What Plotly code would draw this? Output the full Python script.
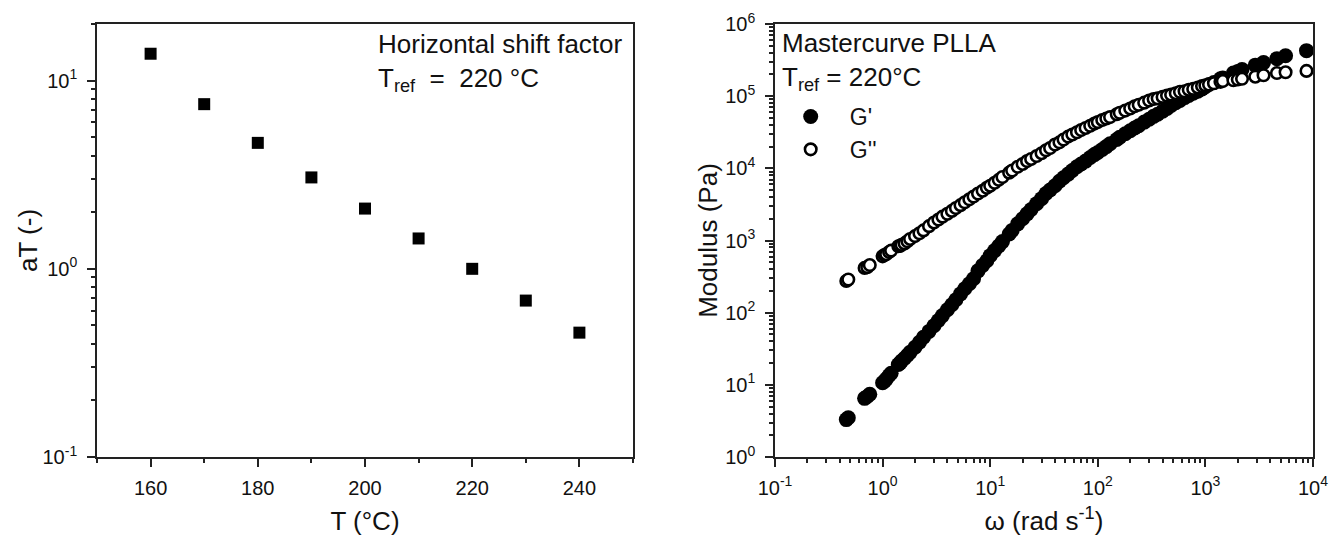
import plotly.graph_objects as go

# ---------------- data ----------------
T_C = [160, 170, 180, 190, 200, 210, 220, 230, 240]
aT = [13.9, 7.5, 4.67, 3.06, 2.09, 1.45, 1.0, 0.678, 0.458]

omega = [0.46, 0.48, 0.68, 0.72, 0.76, 1.0, 1.04, 1.08, 1.15, 1.2, 1.4, 1.45, 1.5, 1.6, 1.7, 1.8,
         2.0, 2.2, 2.4, 2.7, 3.0, 3.3, 3.6, 4.0, 4.4, 4.8, 5.3, 5.8, 6.4, 7.0, 7.7, 8.5, 9.3,
         10, 11, 12, 13, 15, 16, 18, 20, 22, 24, 27, 30, 33, 36, 40, 44, 48, 53, 58, 64, 70,
         77, 85, 93, 100, 110, 120, 130, 150, 160, 180, 200, 220, 240, 270, 300, 330, 360,
         400, 440, 480, 530, 580, 640, 700, 770, 850, 930, 1000, 1080, 1200, 1380, 1450,
         1820, 2000, 2190, 2910, 3470, 4620, 5560, 8700]

G_storage = [3.3, 3.5, 6.5, 6.9, 7.4, 10.7, 11.2, 12.0, 13.5, 14.5, 19.1, 20, 21.4, 23.4, 25.7, 28.2,
             33.1, 38.9, 45.7, 55, 66, 78, 91, 110, 129, 151, 182, 214, 251, 295, 380, 452, 525,
             617, 724, 841, 966, 1230, 1380, 1700, 2000, 2340, 2690, 3240, 3800, 4470, 5010, 5750,
             6610, 7410, 8320, 9330, 10500, 11500, 12600, 14100, 15500, 16600, 18200, 20000, 21900,
             25100, 26900, 30200, 33100, 36300, 38900, 43700, 47900, 52500, 56200, 61700, 67600,
             74100, 81300, 87100, 95500, 102000, 110000, 117000, 126000, 135000, 145000, 155000,
             174000, 178000, 209000, 219000, 234000, 269000, 292000, 331000, 363000, 427000]

G_loss = [275, 288, 417, 427, 457, 603, 631, 646, 692, 724, 832, 841, 871, 912, 977, 1050,
          1150, 1260, 1380, 1580, 1780, 1950, 2140, 2340, 2570, 2820, 3090, 3390, 3720, 4070,
          4470, 4900, 5370, 5750, 6310, 6920, 7590, 8710, 9330, 10500, 11500, 12600, 13500,
          14800, 16200, 17800, 19100, 21400, 22900, 25100, 27500, 29500, 31600, 33900, 36300,
          38900, 41700, 43700, 46800, 49000, 51300, 56200, 58900, 63100, 67600, 72400, 75900,
          81300, 87100, 91200, 93300, 97700, 102000, 105000, 110000, 115000, 117000, 123000,
          126000, 132000, 138000, 141000, 145000, 151000, 158000, 162000, 166000, 170000,
          174000, 186000, 195000, 209000, 214000, 224000]

left_x_ticks = [160, 180, 200, 220, 240]
left_y_ticks = [0.1, 1, 10]
left_y_labels = ["10<sup>-1</sup>", "10<sup>0</sup>", "10<sup>1</sup>"]
right_x_ticks = [0.1, 1, 10, 100, 1000, 10000]
right_x_labels = ["10<sup>-1</sup>", "10<sup>0</sup>", "10<sup>1</sup>", "10<sup>2</sup>",
                  "10<sup>3</sup>", "10<sup>4</sup>"]
right_y_ticks = [1, 10, 100, 1e3, 1e4, 1e5, 1e6]
right_y_labels = ["10<sup>0</sup>", "10<sup>1</sup>", "10<sup>2</sup>", "10<sup>3</sup>",
                  "10<sup>4</sup>", "10<sup>5</sup>", "10<sup>6</sup>"]

# ---------------- figure ----------------
W, H = 1331, 540
FONT = "Liberation Sans, Arial, sans-serif"


def minor_log(dec_lo, dec_hi, vmax=None):
    vals = []
    for d in range(dec_lo, dec_hi):
        for m in range(2, 10):
            v = m * 10 ** d
            if vmax is None or v <= vmax:
                vals.append(v)
    return vals


fig = go.Figure()

fig.add_trace(go.Scatter(
    x=T_C, y=aT, mode="markers", xaxis="x", yaxis="y", showlegend=False,
    marker=dict(symbol="square", size=12, color="black", line=dict(width=0)),
))

fig.add_trace(go.Scatter(
    x=omega, y=G_storage, mode="markers", xaxis="x2", yaxis="y2",
    name="\u00a0\u00a0\u00a0G'",
    marker=dict(symbol="circle", size=15, color="black", line=dict(width=0)),
))
fig.add_trace(go.Scatter(
    x=omega, y=G_loss, mode="markers", xaxis="x2", yaxis="y2",
    name="\u00a0\u00a0\u00a0G''",
    marker=dict(symbol="circle", size=11.5, color="white", line=dict(width=2.6, color="black")),
))

axis_common = dict(
    showline=True, linecolor="#222", linewidth=1.6, mirror=True, showgrid=False,
    zeroline=False, ticks="outside", ticklen=8, tickwidth=1.5, tickcolor="#222",
    tickfont=dict(family=FONT, size=20, color="#111"), automargin=False,
)
minor_common = dict(ticks="outside", ticklen=4, tickwidth=1.5, tickcolor="#222",
                    tickmode="array")

fig.update_layout(
    width=W, height=H,
    margin=dict(l=0, r=0, t=0, b=0, autoexpand=False),
    paper_bgcolor="white", plot_bgcolor="white",
    font=dict(family=FONT, size=20, color="#111"),
    xaxis=dict(
        axis_common, domain=[97 / W, 633 / W], anchor="y", range=[150, 250],
        tickmode="array", tickvals=left_x_ticks, ticklabelstandoff=4,
        minor=dict(minor_common, tickvals=[150, 170, 190, 210, 230, 250]),
        title=dict(text="T (°C)", font=dict(family=FONT, size=26), standoff=14),
    ),
    yaxis=dict(
        axis_common, domain=[1 - 457 / H, 1 - 24 / H], anchor="x", type="log",
        range=[-1, 1.30103], tickmode="array", tickvals=left_y_ticks, ticktext=left_y_labels,
        ticklabelstandoff=6,
        minor=dict(minor_common, tickvals=minor_log(-1, 2, 20)),
    ),
    xaxis2=dict(
        axis_common, domain=[775 / W, 1313 / W], anchor="y2", type="log", range=[-1, 4],
        tickmode="array", tickvals=right_x_ticks, ticktext=right_x_labels, ticklabelstandoff=4,
        minor=dict(minor_common, tickvals=minor_log(-1, 4)),
        title=dict(text="ω (rad s<sup>-1</sup>)", font=dict(family=FONT, size=26), standoff=14),
    ),
    yaxis2=dict(
        axis_common, domain=[1 - 457 / H, 1 - 24 / H], anchor="x2", type="log", range=[0, 6],
        tickmode="array", tickvals=right_y_ticks, ticktext=right_y_labels, ticklabelstandoff=6,
        minor=dict(minor_common, tickvals=minor_log(0, 6)),
        title=dict(text="Modulus (Pa)", font=dict(family=FONT, size=26), standoff=0),
    ),
    legend=dict(
        x=(810.7 - 20) / W, xanchor="left", y=1 - 95 / H, yanchor="top",
        bgcolor="rgba(0,0,0,0)", borderwidth=0, itemwidth=30,
        font=dict(family=FONT, size=23, color="#111"), tracegroupgap=0,
    ),
    annotations=[
        dict(text="aT (-)", xref="paper", yref="paper", x=28 / W, y=1 - 241 / H,
             xanchor="center", yanchor="middle", textangle=-90, showarrow=False,
             font=dict(family=FONT, size=26, color="#111")),
        dict(text="Horizontal shift factor<br>T<sub>ref</sub>\u00a0\u00a0=\u00a0\u00a0220 °C",
             xref="paper", yref="paper", x=376 / W, y=1 - 27 / H, xanchor="left",
             yanchor="top", align="left", showarrow=False,
             font=dict(family=FONT, size=26, color="#111")),
        dict(text="Mastercurve PLLA<br>T<sub>ref</sub> = 220°C",
             xref="paper", yref="paper", x=780 / W, y=1 - 26 / H, xanchor="left",
             yanchor="top", align="left", showarrow=False,
             font=dict(family=FONT, size=26, color="#111")),
    ],
)

fig.write_html("out.html", config={"displayModeBar": False},
               post_script="document.body.style.margin='0px';")
